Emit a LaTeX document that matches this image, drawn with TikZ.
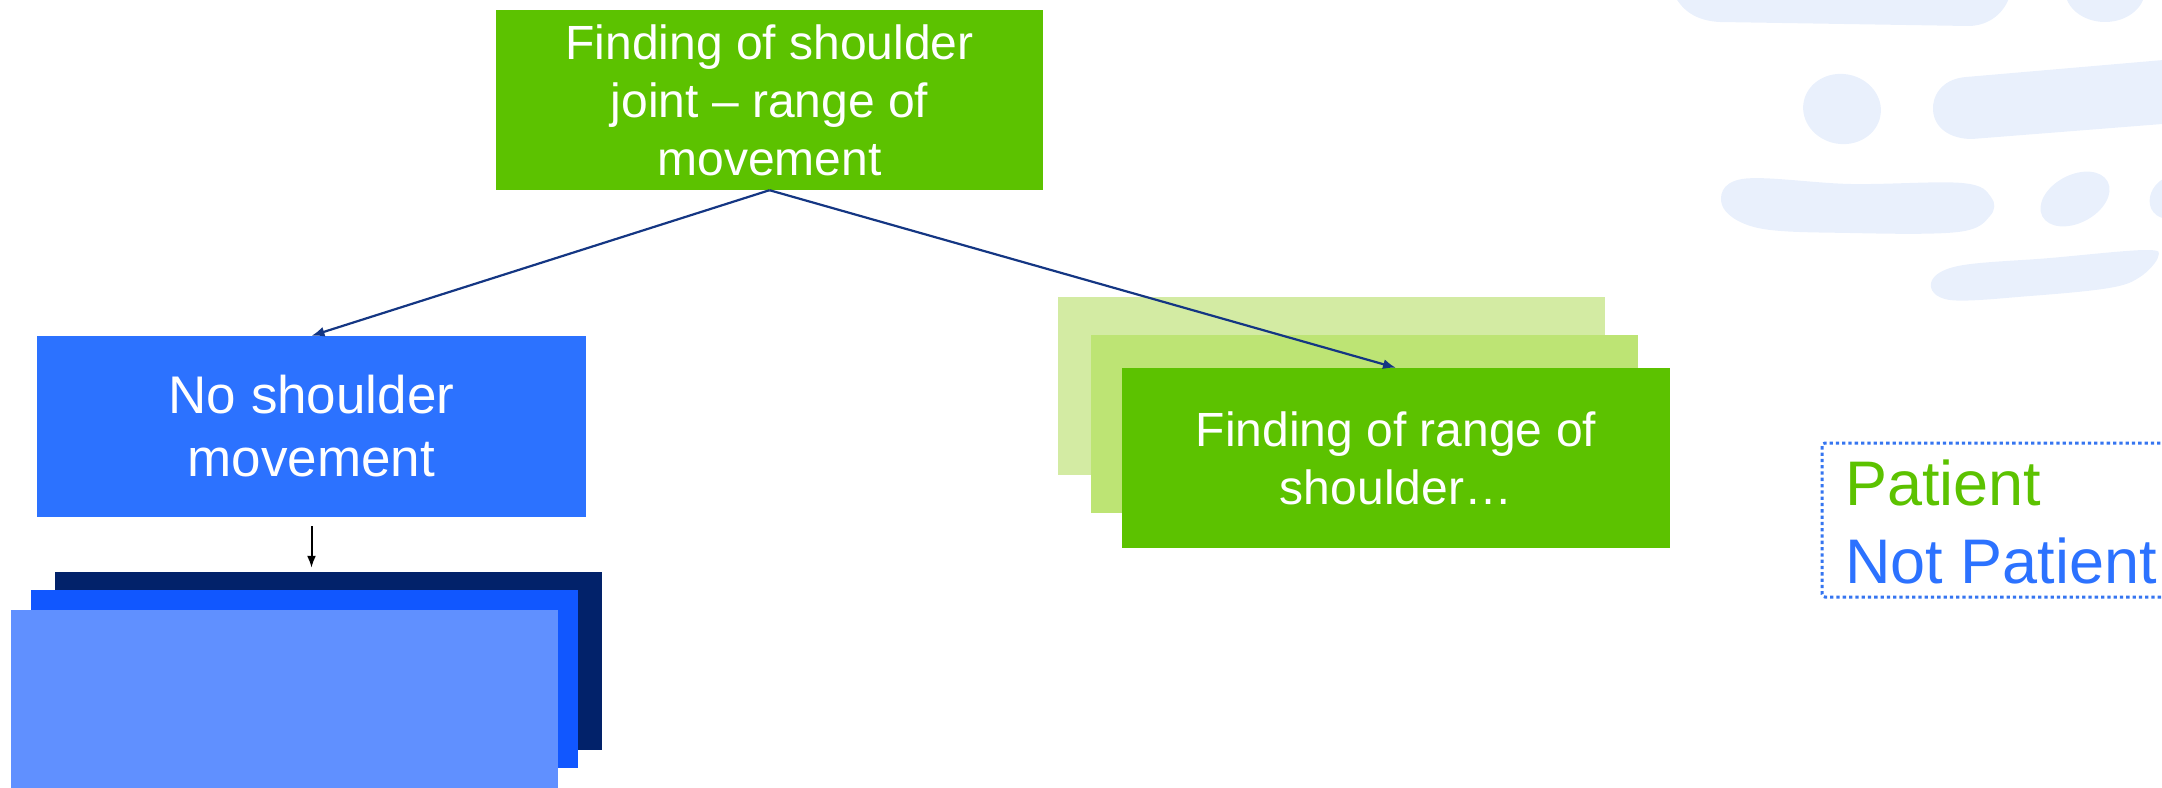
\documentclass[tikz,border=0pt]{standalone}
\usepackage{fontspec}
\setmainfont{Liberation Sans}
\usetikzlibrary{arrows.meta}
\definecolor{gTop}{HTML}{5CC200}
\definecolor{gLight}{HTML}{D3EBA3}
\definecolor{gMid}{HTML}{BDE474}
\definecolor{bMain}{HTML}{2C72FF}
\definecolor{bDark}{HTML}{02226A}
\definecolor{bMid}{HTML}{1157FF}
\definecolor{bFront}{HTML}{6090FF}
\definecolor{navy}{HTML}{143683}
\definecolor{blob}{HTML}{E9F0FC}
\definecolor{dotc}{HTML}{3575F0}
\begin{document}
\begin{tikzpicture}[x=1pt,y=-1pt,
  card/.style={rectangle, inner sep=0pt, minimum width=547pt, minimum height=179pt,
    text=white, align=center},
  link/.style={draw=navy, line width=2.2pt, -{Latex[length=13pt,width=10pt]}},
  blobfill/.style={fill=blob}]
\useasboundingbox (0,0) rectangle (2162,787);
\clip (0,0) rectangle (2162,787);
% background blobs
\fill[blobfill] (1676,-2) .. controls (1684,12) and (1698,21) .. (1720,22)
  -- (1968,26) .. controls (1990,26) and (2004,12) .. (2009,-2) -- cycle;
\fill[blobfill] (2105,-10) ellipse [x radius=40, y radius=32];
\fill[blobfill, rotate around={-10:(1842,109)}] (1842,109) ellipse [x radius=39, y radius=35];
\fill[blobfill] (2175,59) -- (1966,77) .. controls (1940,79) and (1932,98) .. (1933,110)
  .. controls (1934,128) and (1950,139) .. (1972,139) -- (2175,123) -- cycle;
\fill[blobfill] plot[smooth cycle, tension=0.6] coordinates {(1742,179) (1851,184) (1962,183) (1991,197) (1990,216) (1958,232) (1850,233) (1758,228) (1722,205)};
\fill[blobfill, rotate around={28:(2075,199)}] (2075,199) ellipse [x radius=37, y radius=24];
\fill[blobfill, rotate around={40:(2172,197)}] (2172,197) ellipse [x radius=24, y radius=20];
\fill[blobfill] plot[smooth cycle, tension=0.6] coordinates {(1931,283) (1958,266) (2050,258) (2145,250) (2158,257) (2140,277) (2109,288) (2030,296) (1950,300)};
% top node
\node[card, fill=gTop, minimum width=547pt, minimum height=180pt,
  font=\fontsize{48}{58}\selectfont] (top) at (769.5,100)
  {Finding of shoulder\\joint -- range of\\movement};
% left branch
\node[card, fill=bMain, minimum width=549pt, minimum height=181pt,
  font=\fontsize{53}{63}\selectfont] (nomove) at (311.5,426.5)
  {No shoulder\\movement};
\node[card, fill=bDark, minimum height=178pt] (bdark) at (328,661) {};
\node[card, fill=bMid, minimum height=178pt] (bmid) at (304,679) {};
\node[card, fill=bFront, minimum height=178pt] (bfront) at (284,699) {};
% right branch
\node[card, fill=gLight, minimum height=178pt] (glight) at (1331,385.7) {};
\node[card, fill=gMid, minimum height=178pt] (gmid) at (1364,423.8) {};
\node[card, fill=gTop, minimum width=548pt, minimum height=180pt,
  font=\fontsize{48}{58}\selectfont] (range) at (1396,458)
  {Finding of range of\\shoulder\dots};
% connectors
\draw[link] (top.south) -- (nomove.north);
\draw[link] (top.south) -- (range.north);
\draw[line width=2pt, -{Latex[length=12pt,width=9pt]}, shorten >=4pt]
  ([yshift=-9pt]nomove.south) -- (nomove.south |- bdark.north);
% legend
\node[draw=dotc, line width=3pt, dash pattern=on 3.3pt off 3pt, rounded corners=3pt,
  minimum width=354pt, minimum height=154pt, inner sep=0pt] (legbox) at (1999,520) {};
\node[anchor=base west, inner sep=0pt, text=gTop, font=\fontsize{63}{75}\selectfont]
  (legP) at (1845,505) {Patient};
\node[anchor=base west, inner sep=0pt, text=bMain, font=\fontsize{63}{75}\selectfont]
  (legN) at (1845,583) {Not Patient};
\end{tikzpicture}
\end{document}
